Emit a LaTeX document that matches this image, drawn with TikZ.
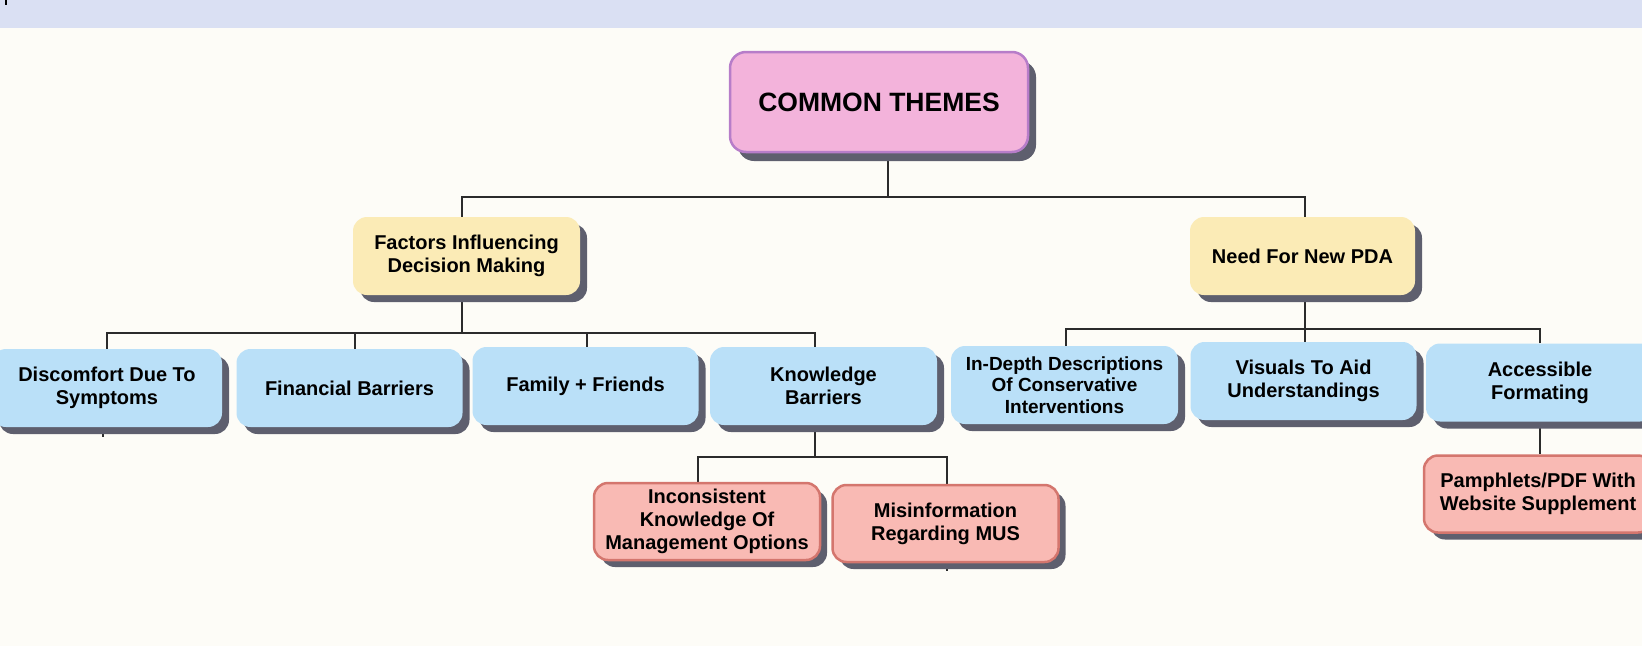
\documentclass[tikz,border=0pt]{standalone}
\usepackage{fontspec}
\setmainfont{Liberation Sans}
\usetikzlibrary{backgrounds}
\definecolor{bgc}{HTML}{FDFCF7}
\definecolor{bandc}{HTML}{DAE0F3}
\definecolor{pinkf}{HTML}{F3B3DB}
\definecolor{pinkd}{HTML}{B77DC9}
\definecolor{yelf}{HTML}{FBEBB6}
\definecolor{bluef}{HTML}{BAE0F8}
\definecolor{redf}{HTML}{F9BAB4}
\definecolor{redd}{HTML}{D4766E}
\definecolor{shadc}{HTML}{5E5F6E}
\definecolor{linec}{HTML}{2B2B2B}
\tikzset{
  box/.style={rectangle, rounded corners=14pt, inner sep=0pt, minimum height=78pt,
    align=center, text=black, font=\bfseries\fontsize{20}{23}\selectfont,
    preaction={fill=shadc, transform canvas={shift={(7pt,-7pt)}}}},
  titlebox/.style={rectangle, inner sep=0pt, align=center, text=black,
    fill=pinkf, draw=pinkd, line width=2.5pt, rounded corners=16pt,
    minimum width=298pt, minimum height=100pt, font=\bfseries\fontsize{26.5}{30}\selectfont,
    preaction={fill=shadc, transform canvas={shift={(8pt,-9pt)}}}},
  yelbox/.style={box, fill=yelf},
  bluebox/.style={box, fill=bluef, minimum width=226pt},
  redbox/.style={box, fill=redf, draw=redd, line width=2.5pt, minimum width=226pt, minimum height=77pt},
  conn/.style={draw=linec, line width=1.5pt}
}
\begin{document}
\begin{tikzpicture}[x=1pt,y=-1pt]
\useasboundingbox (0,0) rectangle (1642,646);
\begin{pgfonlayer}{background}
\fill[bgc] (0,0) rectangle (1642,646);
\fill[bandc] (0,0) rectangle (1642,28);
\fill[black] (5,0) rectangle (7,5);
\end{pgfonlayer}

\node[titlebox] (main) at (879,102) {COMMON THEMES};

\node[yelbox, minimum width=227pt] (fdm) at (466.5,256) {Factors Influencing\\Decision Making};
\node[yelbox, minimum width=225pt] (nfp) at (1302.5,256) {Need For New PDA};

\node[bluebox, minimum width=230pt] (dis) at (107,388) {Discomfort Due To\\Symptoms};
\node[bluebox] (fin) at (349.5,388) {Financial Barriers};
\node[bluebox] (fam) at (585.5,386) {Family + Friends};
\node[bluebox, minimum width=227pt] (kno) at (823.5,386) {Knowledge\\Barriers};

\node[bluebox, minimum width=227pt, font=\bfseries\fontsize{19}{21.5}\selectfont] (ind) at (1064.5,385) {In-Depth Descriptions\\Of Conservative\\Interventions};
\node[bluebox] (vis) at (1303.5,381) {Visuals To Aid\\Understandings};
\node[bluebox, minimum width=228pt] (acc) at (1540,382.5) {Accessible\\Formating};

\node[redbox] (inc) at (707,521.5) {Inconsistent\\Knowledge Of\\Management Options};
\node[redbox] (mis) at (945.5,523.5) {Misinformation\\Regarding MUS};
\node[redbox, minimum width=228pt] (pam) at (1538,494) {Pamphlets/PDF With\\Website Supplement};

\coordinate (t) at (888,197);
\coordinate (l2) at (462,333);
\coordinate (r2) at (1305,329);
\coordinate (k3) at (815,457);

\begin{pgfonlayer}{background}
\draw[conn] (main.south -| t) -- (t);
\draw[conn] ([xshift=-4.5pt]fdm.north) |- (t) -| ([xshift=2.5pt]nfp.north);
\draw[conn] (fdm.south -| l2) -- (l2);
\draw[conn] (dis.north) |- (l2);
\draw[conn] ([xshift=5.5pt]fin.north) |- (l2);
\draw[conn] ([xshift=1.5pt]fam.north) |- (l2);
\draw[conn] ([xshift=-8.5pt]kno.north) |- (l2);
\draw[conn] (nfp.south -| r2) -- (vis.north -| r2);
\draw[conn] ([xshift=1.5pt]ind.north) |- (r2);
\draw[conn] (acc.north) |- (r2);
\draw[conn] (acc.south) -- (pam.north -| acc.south);
\draw[conn] ([xshift=-8.5pt]kno.south) -- (k3);
\draw[conn] ([xshift=-9pt]inc.north) |- (k3);
\draw[conn] ([xshift=1.5pt]mis.north) |- (k3);
\draw[conn] ([xshift=-4pt]dis.south) -- ++(0,10);
\draw[conn] ([xshift=1.5pt]mis.south) -- ++(0,8);
\end{pgfonlayer}
\end{tikzpicture}
\end{document}
